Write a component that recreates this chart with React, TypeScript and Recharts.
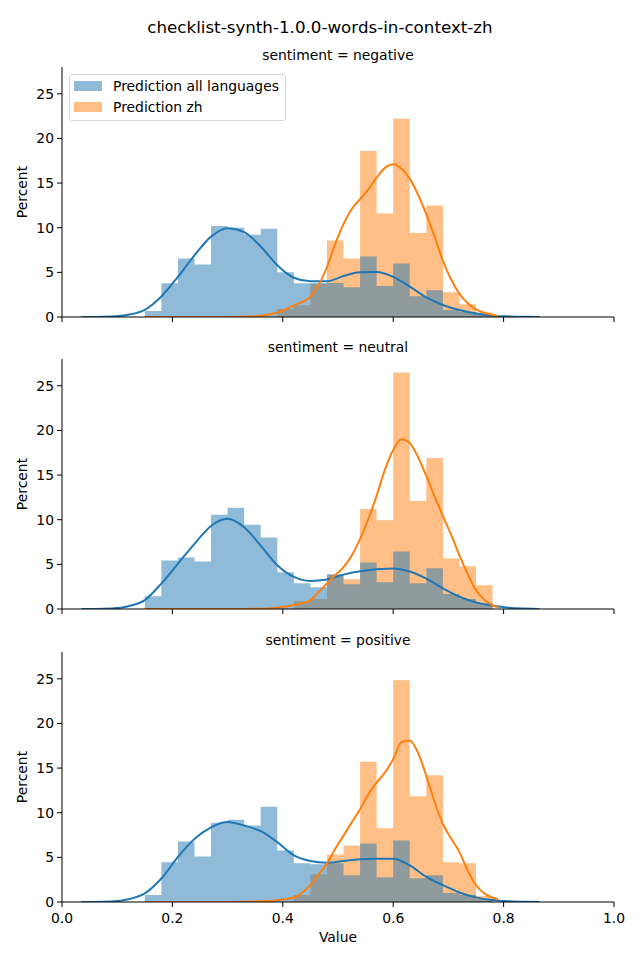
import { ComposedChart, Area, Line, XAxis, YAxis } from "recharts";

// histogram bins (shared by both hues and all facets)
const binEdges = [
  0.15, 0.18, 0.21, 0.24, 0.27, 0.3, 0.33, 0.36, 0.39, 0.42, 0.45, 0.48, 0.51,
  0.54, 0.57, 0.6, 0.63, 0.66, 0.69, 0.72, 0.75, 0.78,
];

// percent per bin
const allNegative = [
  0.67, 3.78, 6.56, 5.89, 10.2, 10.0, 9.22, 9.89, 5.0, 3.78, 3.8, 3.8, 3.33,
  6.78, 3.48, 6.0, 2.33, 3.0, 0.78, 0.56, 0.3,
];
const zhNegative = [
  0, 0, 0, 0, 0, 0, 0, 0, 0.9, 1.33, 3.7, 8.56, 6.56, 18.6, 11.6, 22.2, 9.4,
  12.5, 2.78, 1.44, 0.5,
];
const allNeutral = [
  1.44, 5.44, 5.78, 5.33, 10.56, 11.33, 9.44, 8.0, 4.11, 2.89, 2.44, 3.89,
  2.78, 5.22, 3.0, 6.44, 2.89, 4.56, 1.67, 1.11, 0.67,
];
const zhNeutral = [
  0, 0, 0, 0, 0, 0, 0, 0, 0, 0.89, 1.11, 3.85, 3.33, 11.2, 9.95, 26.5, 12.1,
  16.9, 5.67, 4.78, 2.67,
];
const allPositive = [
  0.78, 4.44, 6.78, 5.11, 8.89, 9.22, 8.56, 10.67, 5.78, 4.33, 4.22, 4.33, 3.0,
  6.56, 2.78, 6.89, 2.67, 3.0, 1.0, 0.78, 0.33,
];
const zhPositive = [
  0, 0, 0, 0, 0, 0, 0, 0, 0, 0.78, 3.11, 5.33, 6.33, 15.7, 8.25, 24.85, 11.85,
  14.2, 4.44, 4.33, 0.67,
];

// kde curves
const kdeXAll = [
  0.035, 0.06, 0.09, 0.12, 0.15, 0.18, 0.21, 0.24, 0.27, 0.3, 0.33, 0.36, 0.39,
  0.42, 0.45, 0.48, 0.51, 0.54, 0.57, 0.6, 0.63, 0.66, 0.69, 0.72, 0.75, 0.78,
  0.81, 0.84, 0.865,
];
const kdeAllNegative = [
  0, 0, 0.05, 0.25, 0.8, 2.3, 4.5, 6.9, 9.0, 9.95, 9.5, 7.9, 5.8, 4.4, 4.0,
  4.0, 4.6, 5.0, 5.05, 4.5, 3.4, 2.2, 1.35, 0.78, 0.4, 0.15, 0.06, 0.02, 0,
];
const kdeAllNeutral = [
  0, 0, 0.05, 0.3, 1.0, 2.85, 5.07, 7.3, 9.3, 10.1, 9.15, 7.1, 4.9, 3.6, 3.15,
  3.3, 3.85, 4.22, 4.44, 4.55, 4.2, 3.4, 2.3, 1.37, 0.74, 0.37, 0.15, 0.05, 0,
];
const kdeAllPositive = [
  0, 0, 0.05, 0.3, 0.96, 2.63, 5.04, 7.07, 8.37, 8.96, 8.56, 7.93, 6.7, 5.22,
  4.6, 4.4, 4.6, 4.78, 4.85, 4.85, 4.1, 2.81, 1.89, 1.07, 0.52, 0.22, 0.08,
  0.02, 0,
];

const kdeXZh = [
  0.15, 0.2, 0.25, 0.3, 0.35, 0.39, 0.42, 0.45, 0.465, 0.48, 0.495, 0.51,
  0.525, 0.54, 0.555, 0.57, 0.585, 0.6, 0.615, 0.63, 0.645, 0.66, 0.675, 0.69,
  0.705, 0.72, 0.735, 0.75, 0.765, 0.78, 0.79,
];
const kdeZhNegative = [
  0, 0, 0, 0.01, 0.08, 0.5, 1.3, 2.3, 3.6, 5.6, 8.2, 10.4, 12.1, 13.2, 14.3,
  15.6, 16.7, 17.1, 16.6, 15.5, 13.7, 11.5, 9.0, 6.3, 4.2, 2.6, 1.55, 0.85,
  0.48, 0.25, 0.12,
];
const kdeZhNeutral = [
  0, 0, 0, 0, 0.03, 0.15, 0.45, 1.0, 1.9, 2.85, 3.8, 4.7, 6.0, 7.85, 10.1,
  12.7, 15.6, 17.8, 19.0, 18.6, 17.0, 14.9, 12.6, 10.4, 8.3, 6.0, 3.9, 2.1,
  1.05, 0.4, 0.2,
];
const kdeZhPositive = [
  0, 0, 0, 0.01, 0.05, 0.2, 0.5, 1.9, 3.1, 4.3, 5.96, 7.44, 8.93, 10.4, 12.07,
  13.37, 14.5, 16.0, 17.9, 18.1, 16.7, 14.1, 11.2, 8.74, 7.1, 5.59, 3.5, 1.89,
  0.96, 0.5, 0.3,
];

const xTicks = [0, 0.2, 0.4, 0.6, 0.8, 1.0];
const yTicks = [0, 5, 10, 15, 20, 25];

const BLUE = "#1f77b4";
const ORANGE = "#ff7f0e";
const FONT = "'DejaVu Sans', sans-serif";

const steps = (values: number[]) =>
  binEdges.map((x, i) => ({ x, y: i < values.length ? values[i] : 0 }));
const curve = (xs: number[], ys: number[]) =>
  xs.map((x, i) => ({ x, y: ys[i] }));

interface FacetProps {
  title: string;
  top: number;
  all: number[];
  zh: number[];
  kdeAll: number[];
  kdeZh: number[];
  bottom?: boolean;
}

function Facet(props: FacetProps) {
  const tickStyle = { fill: "#000", fontSize: 13.9, fontFamily: FONT };
  return (
    <>
      <div
        style={{
          position: "absolute",
          left: 62,
          width: 552,
          top: props.top - 20,
          textAlign: "center",
          fontSize: 13.9,
          lineHeight: "16px",
        }}
      >
        {props.title}
      </div>
      <div
        style={{
          position: "absolute",
          left: 22 - 40,
          width: 80,
          top: props.top + 125 - 8,
          textAlign: "center",
          fontSize: 13.9,
          lineHeight: "16px",
          transform: "rotate(-90deg)",
        }}
      >
        Percent
      </div>
      <div style={{ position: "absolute", left: 0, top: props.top - 20 }}>
        <ComposedChart
          width={640}
          height={305}
          margin={{ top: 20, right: 26, bottom: 5, left: 22 }}
        >
          <XAxis
            type="number"
            dataKey="x"
            domain={[0, 1]}
            ticks={xTicks}
            height={30}
            stroke="#000"
            tickSize={5}
            tickMargin={6}
            tick={tickStyle}
            tickFormatter={(v: number) => (props.bottom ? v.toFixed(1) : "")}
            allowDataOverflow
          />
          <YAxis
            type="number"
            domain={[0, 28]}
            ticks={yTicks}
            width={40}
            stroke="#000"
            tickSize={5}
            tickMargin={3}
            tick={tickStyle}
            allowDataOverflow
          />
          <Area
            data={steps(props.zh)}
            dataKey="y"
            type="stepAfter"
            fill={ORANGE}
            fillOpacity={0.5}
            stroke="none"
            baseValue={0}
            isAnimationActive={false}
          />
          <Area
            data={steps(props.all)}
            dataKey="y"
            type="stepAfter"
            fill={BLUE}
            fillOpacity={0.5}
            stroke="none"
            baseValue={0}
            isAnimationActive={false}
          />
          <Line
            data={curve(kdeXAll, props.kdeAll)}
            dataKey="y"
            type="monotone"
            stroke={BLUE}
            strokeWidth={2}
            dot={false}
            isAnimationActive={false}
          />
          <Line
            data={curve(kdeXZh, props.kdeZh)}
            dataKey="y"
            type="monotone"
            stroke={ORANGE}
            strokeWidth={2}
            dot={false}
            isAnimationActive={false}
          />
        </ComposedChart>
      </div>
    </>
  );
}

export default function App() {
  return (
    <div
      style={{
        position: "absolute",
        left: 0,
        top: 0,
        width: 640,
        height: 960,
        background: "#fff",
        fontFamily: FONT,
        color: "#000",
      }}
    >
      <div
        style={{
          position: "absolute",
          left: 0,
          width: 640,
          top: 17,
          textAlign: "center",
          fontSize: 16.7,
          lineHeight: "20px",
        }}
      >
        checklist-synth-1.0.0-words-in-context-zh
      </div>
      <Facet
        title="sentiment = negative"
        top={67}
        all={allNegative}
        zh={zhNegative}
        kdeAll={kdeAllNegative}
        kdeZh={kdeZhNegative}
      />
      <Facet
        title="sentiment = neutral"
        top={359}
        all={allNeutral}
        zh={zhNeutral}
        kdeAll={kdeAllNeutral}
        kdeZh={kdeZhNeutral}
      />
      <Facet
        title="sentiment = positive"
        top={652}
        all={allPositive}
        zh={zhPositive}
        kdeAll={kdeAllPositive}
        kdeZh={kdeZhPositive}
        bottom
      />
      <div
        style={{
          position: "absolute",
          left: 62,
          width: 552,
          top: 928,
          textAlign: "center",
          fontSize: 13.9,
          lineHeight: "18px",
        }}
      >
        Value
      </div>
      {/* legend */}
      <div
        style={{
          position: "absolute",
          left: 69,
          top: 74,
          width: 215,
          height: 45,
          border: "1px solid #d6d6d6",
          borderRadius: 3,
          background: "rgba(255,255,255,0.8)",
          fontSize: 13.9,
        }}
      >
        {[
          { label: "Prediction all languages", color: BLUE, y: 6 },
          { label: "Prediction zh", color: ORANGE, y: 27 },
        ].map((item) => (
          <div key={item.label}>
            <div
              style={{
                position: "absolute",
                left: 4,
                top: item.y,
                width: 28,
                height: 10,
                background: item.color,
                opacity: 0.5,
              }}
            />
            <div
              style={{
                position: "absolute",
                left: 43,
                top: item.y - 4,
                lineHeight: "18px",
                whiteSpace: "nowrap",
              }}
            >
              {item.label}
            </div>
          </div>
        ))}
      </div>
    </div>
  );
}
